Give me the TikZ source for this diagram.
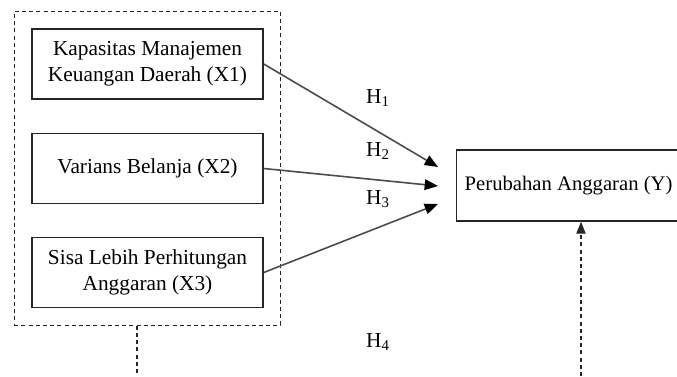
\documentclass[tikz,border=0pt]{standalone}
\usepackage{fontspec}
\setmainfont{Liberation Serif}
\usetikzlibrary{arrows.meta,positioning,fit}

\begin{document}
\begin{tikzpicture}[
  x=0.75pt, y=-0.75pt,
  font=\fontsize{16}{19.5}\selectfont,
  var/.style={draw=black!85, line width=1.1pt, minimum width=173.25pt, minimum height=52.5pt,
              align=center, inner sep=0pt},
  dep/.style={draw=black!85, line width=1.1pt, minimum height=53.25pt, inner xsep=6pt,
              anchor=west, font=\fontsize{15.5}{19}\selectfont},
  grp/.style={draw=black!85, line width=0.9pt, dash pattern=on 3pt off 2.4pt},
  path/.style={draw=black!70, line width=1.2pt, -{Triangle[length=10pt, width=8pt, color=black]}},
  link/.style={draw=black!85, line width=0.9pt, dash pattern=on 3pt off 2.4pt},
  hyp/.style={inner sep=0pt},
]
\useasboundingbox (0,0) rectangle (677,376);

% Independent variables
\node[var] (x1) at (147.5, 64) {Kapasitas Manajemen\\Keuangan Daerah (X1)};
\node[var] (x2) at (147.5, 168.5) {Varians Belanja (X2)};
\node[var] (x3) at (147.5, 272.5) {Sisa Lebih Perhitungan\\Anggaran (X3)};

% Group frame
\node[grp, fit=(x1) (x2) (x3), inner sep=12.75pt] (grp) {};

% Dependent variable
\node[dep] (y) at (456, 185.5) {Perubahan Anggaran (Y)};

% Arrow ends in front of Y
\coordinate (t1) at (438, 167);
\coordinate (t2) at (438, 186);
\coordinate (t3) at (438, 204);

\draw[path] (x1.east) -- (t1);
\draw[path] (x2.east) -- (t2);
\draw[path] (x3.east) -- (t3);

% Hypothesis labels
\node[hyp] (h1) at (378, 98) {H\textsubscript{1}};
\node[hyp] (h2) at (378, 151) {H\textsubscript{2}};
\node[hyp] (h3) at (378, 199) {H\textsubscript{3}};
\node[hyp] (h4) at (378, 342) {H\textsubscript{4}};

% Joint effect (continues below)
\coordinate (lbot) at (137, 376);
\coordinate (rbot) at (581, 376);
\draw[link] (lbot |- grp.south) -- (lbot);
\draw[link, -{Triangle[length=9pt, width=7pt]}] (rbot) -- (rbot |- y.south);

\end{tikzpicture}
\end{document}
